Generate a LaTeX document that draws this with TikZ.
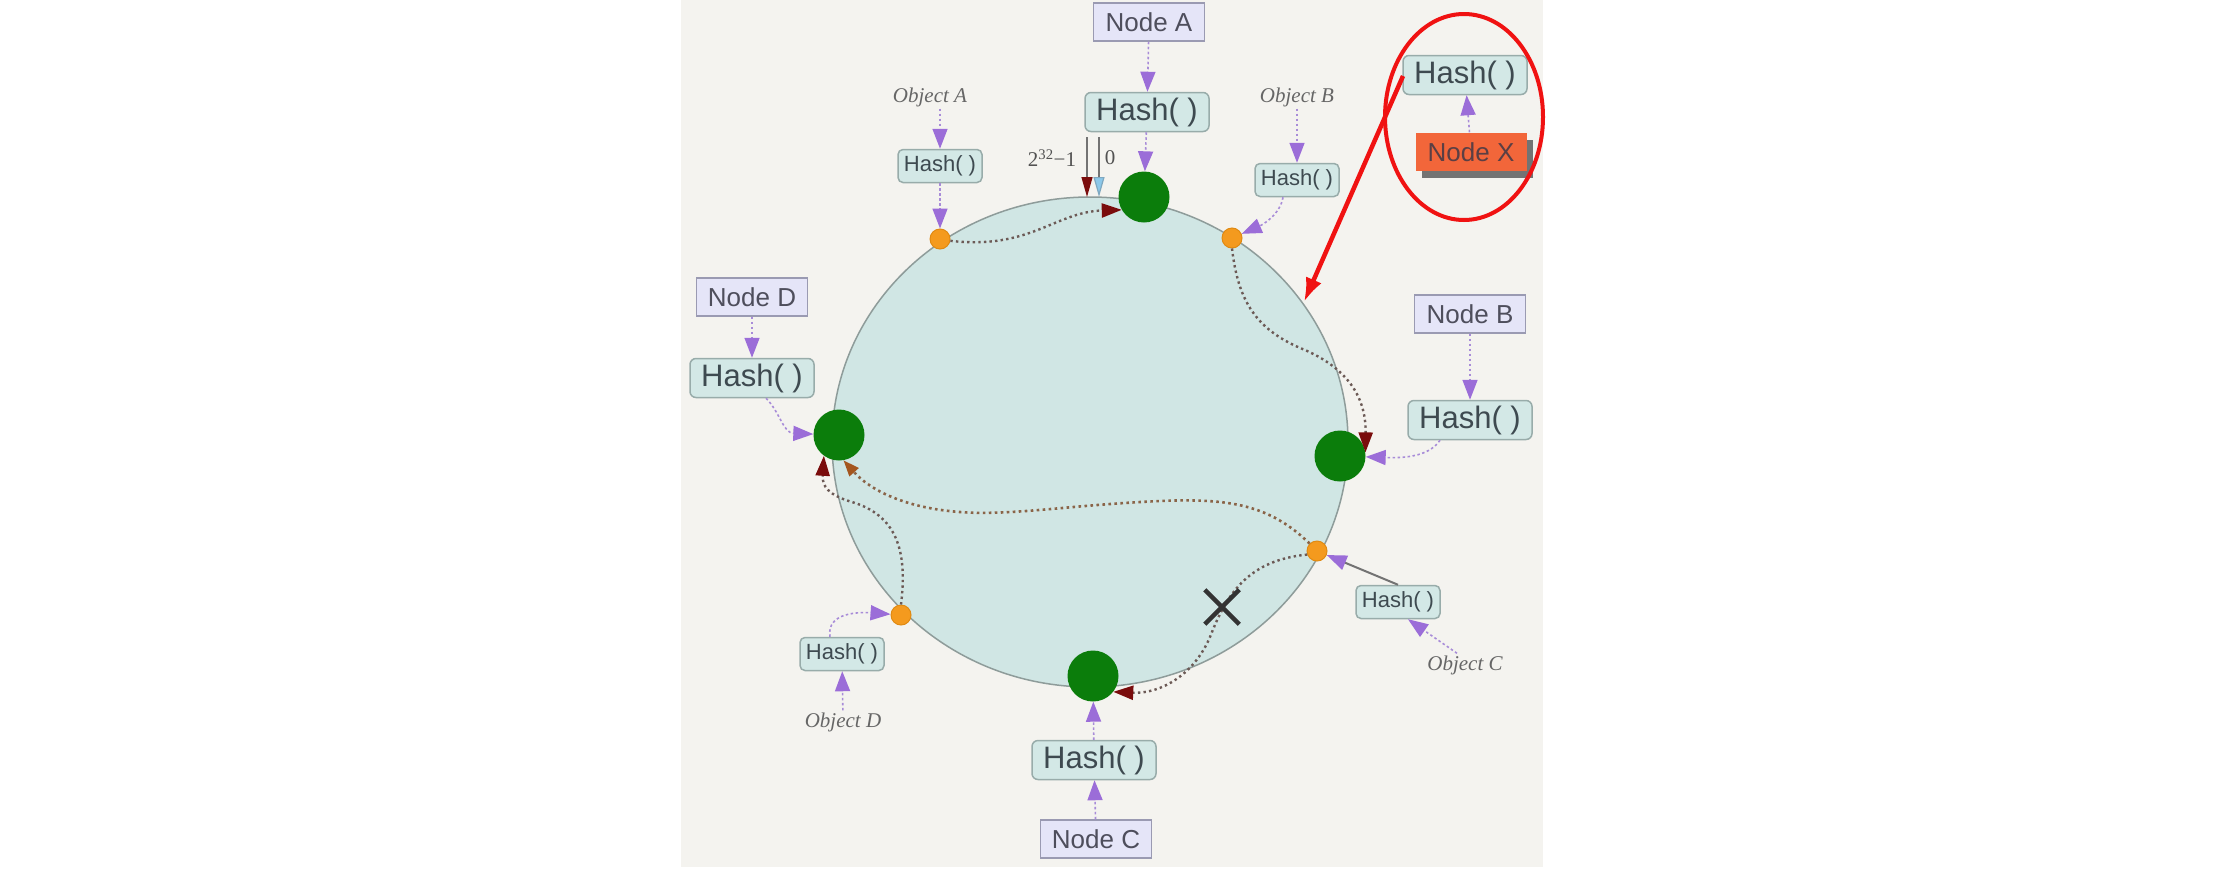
\documentclass[tikz,border=0pt]{standalone}
\usepackage{fontspec}
\setmainfont{Liberation Serif}
\newfontfamily\sansf{Liberation Sans}
\usetikzlibrary{arrows.meta,shapes.geometric,shapes.misc,shadows}
\definecolor{panelbg}{HTML}{F4F3EF}
\definecolor{ringfill}{HTML}{D0E6E4}
\definecolor{ringline}{HTML}{8E9C9A}
\definecolor{hashfill}{HTML}{D3E8E6}
\definecolor{hashline}{HTML}{98ACAA}
\definecolor{hashtext}{HTML}{3E4A50}
\definecolor{nodefill}{HTML}{E5E5F8}
\definecolor{nodeline}{HTML}{9A9AB2}
\definecolor{nodetext}{HTML}{4E4E5C}
\definecolor{objtext}{HTML}{666666}
\definecolor{ballgreen}{HTML}{0B7D0B}
\definecolor{dotorange}{HTML}{F49A1E}
\definecolor{dotedge}{HTML}{E08A12}
\definecolor{plinecol}{HTML}{A88CD8}
\definecolor{pheadcol}{HTML}{9B6DD8}
\definecolor{hopcol}{HTML}{6C5A56}
\definecolor{hopheadcol}{HTML}{7A0C0C}
\definecolor{brownhead}{HTML}{A4561E}
\definecolor{browndots}{HTML}{8A6448}
\definecolor{zeroblue}{HTML}{8CC8EA}
\definecolor{zeroedge}{HTML}{7FA8C0}
\definecolor{redline}{HTML}{F01212}
\definecolor{nodexfill}{HTML}{F2663A}
\definecolor{shadowgray}{HTML}{737373}
\definecolor{xcol}{HTML}{333333}
\begin{document}
\begin{tikzpicture}[x=1pt,y=-1pt,
  hashbig/.style={draw=hashline, fill=hashfill, rounded corners=6pt, line width=1.5pt,
    minimum width=124pt, minimum height=39pt, inner sep=0pt,
    font=\sansf\fontsize{31}{34}\selectfont, text=hashtext},
  hashsmall/.style={hashbig, minimum width=84pt, minimum height=33pt,
    rounded corners=5pt, font=\sansf\fontsize{22}{25}\selectfont},
  nodebox/.style={draw=nodeline, fill=nodefill, line width=1.5pt,
    minimum width=111pt, minimum height=38pt, inner sep=0pt,
    font=\sansf\fontsize{26}{29}\selectfont, text=nodetext},
  objlabel/.style={font=\itshape\fontsize{21}{24}\selectfont, text=objtext, inner sep=2pt},
  ball/.style={circle, fill=ballgreen, minimum size=51pt, inner sep=0pt},
  odot/.style={circle, fill=dotorange, draw=dotedge, line width=1pt, minimum size=20pt, inner sep=0pt},
  parrow/.style={draw=plinecol, line width=1.6pt, dash pattern=on 2.5pt off 2.5pt,
    -{Triangle[length=20pt,width=15pt,color=pheadcol,fill=pheadcol]}},
  solidp/.style={draw=shadowgray, line width=2pt,
    -{Triangle[length=20pt,width=15pt,color=pheadcol,fill=pheadcol]}},
  hop/.style={draw=hopcol, line width=2.4pt, dash pattern=on 2.4pt off 3.2pt,
    -{Triangle[length=20pt,width=14pt,color=hopheadcol,fill=hopheadcol]}},
  hopbrown/.style={draw=browndots, line width=2.6pt, dash pattern=on 2.6pt off 3.4pt,
    -{Triangle[length=16pt,width=12pt,color=brownhead,fill=brownhead]}},
  redarrow/.style={draw=redline, line width=4.5pt, -{Latex[length=24pt,width=17pt]}},
]
\useasboundingbox (0,0) rectangle (2232,876);
\fill[white] (0,0) rectangle (2232,876);
\fill[panelbg] (681,0) rectangle (1543,867);

% ring
\node[ellipse, draw=ringline, fill=ringfill, line width=1.5pt, minimum width=516pt,
  minimum height=490pt, inner sep=0pt] (ring) at (1090,442) {};

% balls and dots
\node[ball] (gA) at (1144,197) {};
\node[ball] (gB) at (1340,456) {};
\node[ball] (gC) at (1093,676) {};
\node[ball] (gD) at (839,435) {};
\node[odot] (oA) at (940,239) {};
\node[odot] (oB) at (1232,238) {};
\node[odot] (oC) at (1317,551) {};
\node[odot] (oD) at (901,615) {};

% hop curves
\draw[hop] (oA.-10) .. controls (1030,250) and (1055,212) .. (gA.210);
\draw[hop] (oB.-90) .. controls (1238,300) and (1255,330) .. (1305,350)
  .. controls (1355,372) and (1366,405) .. (gB.8);
\draw[hopbrown] (oC.135) .. controls (1270,505) and (1230,498) .. (1160,501)
  .. controls (1070,505) and (1010,516) .. (960,512)
  .. controls (905,508) and (870,490) .. (gD.-80);
\draw[hop] (oC.200) .. controls (1250,560) and (1228,592) .. (1212,632)
  .. controls (1196,675) and (1160,694) .. (gC.-38);
\draw[hop] (oD.90) .. controls (908,548) and (895,515) .. (852,502)
  .. controls (828,495) and (822,486) .. (gD.-126);

% cross
\node[cross out, draw=xcol, line width=4.5pt, minimum size=30pt, inner sep=0pt] (xm) at (1222,607) {};

% boxes
\node[nodebox] (nA) at (1149,22) {Node A};
\node[hashbig] (hA) at (1147,112) {Hash(\ )};
\node[nodebox] (nB) at (1470,314) {Node B};
\node[hashbig] (hB) at (1470,420) {Hash(\ )};
\node[hashbig] (hC) at (1094,760) {Hash(\ )};
\node[nodebox] (nC) at (1096,839) {Node C};
\node[nodebox] (nD) at (752,297) {Node D};
\node[hashbig] (hD) at (752,378) {Hash(\ )};
\node[hashbig] (hX) at (1465,75) {Hash(\ )};
\node[nodebox, draw=none, fill=nodexfill, text=hashtext!85!red,
  drop shadow={shadow xshift=6pt, shadow yshift=-7pt, fill=shadowgray, opacity=1}] (nX) at (1471,152) {Node X};

\node[hashsmall] (shA) at (940,166) {Hash(\ )};
\node[hashsmall] (shB) at (1297,180) {Hash(\ )};
\node[hashsmall] (shC) at (1398,602) {Hash(\ )};
\node[hashsmall] (shD) at (842,654) {Hash(\ )};

\node[objlabel] (obA) at (930,97) {Object A};
\node[objlabel] (obB) at (1297,97) {Object B};
\node[objlabel] (obC) at (1465,665) {Object C};
\node[objlabel] (obD) at (843,722) {Object D};

% 2^32-1 and 0 markers
\node[font=\fontsize{21}{24}\selectfont, text=objtext!80!black] (lmax) at (1052,158) {2\textsuperscript{32}−1};
\node[font=\fontsize{21}{24}\selectfont, text=objtext!80!black] (lzero) at (1110,158) {0};
\coordinate (m1s) at (1087,137);
\coordinate (m1e) at (1087,197);
\coordinate (m2s) at (1099,137);
\coordinate (m2e) at (1099,197);
\draw[line width=1.2pt, draw=shadowgray, -{Triangle[length=20pt,width=11pt,color=hopheadcol,fill=hopheadcol]}] (m1s) -- (m1e);
\draw[line width=1.2pt, draw=shadowgray, -{Triangle[length=20pt,width=11pt,color=zeroedge,fill=zeroblue]}] (m2s) -- (m2e);

% purple arrows
\draw[parrow] (nA) -- (hA);
\draw[parrow] (hA) -- (gA);
\draw[parrow] (obA.south -| shA.north) -- (shA.north);
\draw[parrow] (shA) -- (oA);
\draw[parrow] (obB) -- (shB);
\draw[parrow] ([xshift=-14pt]shB.south) .. controls (1280,215) and (1262,225) .. (oB);
\draw[parrow] (nX) -- (hX);
\draw[parrow] (nB) -- (hB);
\draw[parrow] ([xshift=-30pt]hB.south) .. controls (1428,458) and (1400,458) .. (gB);
\draw[parrow] (nD) -- (hD);
\draw[parrow] ([xshift=14pt]hD.south) .. controls (780,412) and (783,433) .. (gD);
\draw[parrow] (nC) -- (hC);
\draw[parrow] (hC) -- (gC);
\draw[parrow] ([xshift=-8pt]obC.north) -- ([xshift=10pt]shC.south);
\draw[solidp] (shC.north) -- (oC);
\draw[parrow] (obD) -- (shD);
\draw[parrow] ([xshift=-12pt]shD.north) .. controls (826,612) and (860,612) .. (oD);

% red highlight
\node[ellipse, draw=redline, line width=4pt, minimum width=158pt, minimum height=206pt, inner sep=0pt] (hl) at (1464,117) {};
\coordinate (rs) at (1403,76);
\coordinate (rt) at (1304,302);
\draw[redarrow] (rs) -- (rt);
\end{tikzpicture}
\end{document}
